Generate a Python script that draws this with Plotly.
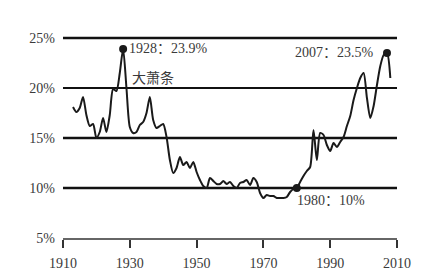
import plotly.graph_objects as go

years = list(range(1913, 2009))
share = [18.1, 17.6, 18.0, 19.1, 17.3, 16.2, 16.4, 15.0, 15.6, 17.0,
         15.6, 17.3, 19.9, 19.7, 21.5, 23.9, 20.0, 16.1, 15.5, 15.6,
         16.3, 16.6, 17.5, 19.1, 16.8, 16.0, 16.2, 16.4, 15.1, 12.8,
         11.5, 12.0, 13.1, 12.3, 12.6, 12.0, 12.6, 11.6, 10.8, 10.2,
         10.0, 11.0, 10.7, 10.4, 10.4, 10.7, 10.4, 10.6, 10.2, 10.0,
         10.5, 10.6, 10.8, 10.3, 11.0, 10.6, 9.5, 9.0, 9.3, 9.2,
         9.2, 9.0, 9.0, 9.0, 9.1, 9.6, 9.9, 10.0, 10.6, 11.2,
         11.7, 12.1, 15.8, 12.8, 15.5, 15.3, 14.3, 13.7, 14.5, 14.1,
         14.6, 15.1, 16.2, 17.2, 18.8, 20.0, 21.0, 21.5, 19.0, 17.0,
         18.2, 20.3, 22.2, 23.3, 23.5, 21.0]

mark_years = [1928, 1980, 2007]
mark_vals = [23.9, 10.0, 23.5]

ytick_vals = [5, 10, 15, 20, 25]
ytick_text = ["5%", "10%", "15%", "20%", "25%"]
grid_vals = [10, 15, 20, 25]
grid_widths = [2.6, 2.6, 1.8, 2.6]
xtick_vals = [1910, 1930, 1950, 1970, 1990, 2010]

serif = "Liberation Serif, Times New Roman, Noto Sans CJK SC, serif"
txt = "#3a3a3a"

fig = go.Figure()
for gv, gw in zip(grid_vals, grid_widths):
    fig.add_shape(type="line", xref="x", yref="y", x0=xtick_vals[0], x1=xtick_vals[-1],
                  y0=gv, y1=gv, line=dict(color="#111", width=gw), layer="below")

fig.add_trace(go.Scatter(x=years, y=share, mode="lines",
                         line=dict(color="#1a1a1a", width=2, shape="spline", smoothing=0.7),
                         hoverinfo="skip", showlegend=False))
fig.add_trace(go.Scatter(x=mark_years, y=mark_vals, mode="markers",
                         marker=dict(color="#1a1a1a", size=8),
                         hoverinfo="skip", showlegend=False))

afont = dict(family=serif, size=14, color=txt)
fig.add_annotation(x=1929.3, y=24.0, text="1928：23.9%", showarrow=False,
                   xanchor="left", yanchor="middle", font=afont)
fig.add_annotation(x=1930.0, y=21.0, text="大萧条", showarrow=False,
                   xanchor="left", yanchor="middle", font=afont)
fig.add_annotation(x=2003.8, y=23.6, text="2007：23.5%", showarrow=False,
                   xanchor="right", yanchor="middle", font=afont)
fig.add_annotation(x=1979.6, y=8.8, text="1980：10%", showarrow=False,
                   xanchor="left", yanchor="middle", font=afont)

fig.update_layout(
    width=435, height=275,
    margin=dict(l=63, r=38, t=35, b=37),
    paper_bgcolor="white", plot_bgcolor="white",
    showlegend=False,
)
fig.update_xaxes(range=[1910, 2010], tickvals=xtick_vals, showgrid=False, zeroline=False,
                 showline=True, linecolor="#666", linewidth=1.5,
                 ticks="outside", ticklen=8, tickwidth=2, tickcolor="#333",
                 ticklabelstandoff=3, automargin=False,
                 tickfont=dict(family=serif, size=14, color=txt))
fig.update_yaxes(range=[5, 25.3], tickvals=ytick_vals, ticktext=ytick_text,
                 showgrid=False, zeroline=False, automargin=False,
                 showline=False, ticks="", ticklabelstandoff=7,
                 tickfont=dict(family=serif, size=14, color=txt))

fig.write_html("out.html")
